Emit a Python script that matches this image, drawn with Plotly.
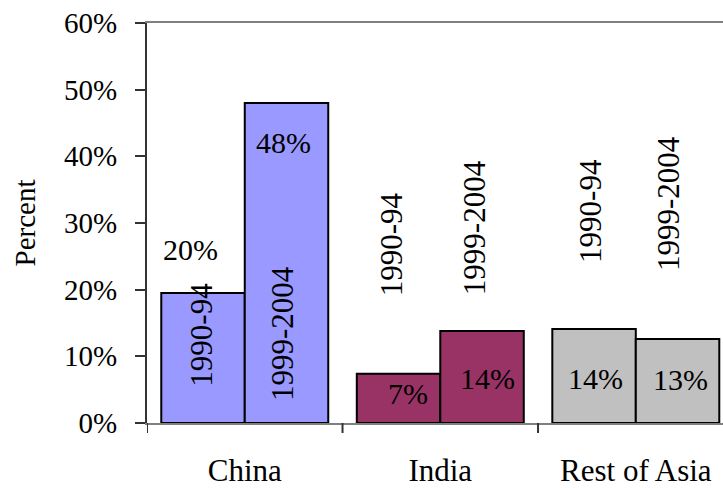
import plotly.graph_objects as go

# Share of inward FDI, by region and period (percent)
regions = ["China", "India", "Rest of Asia"]
periods = ["1990-94", "1999-2004"]
share_1990_94 = [19.5, 7.4, 14.1]
share_1999_2004 = [48.0, 13.8, 12.6]
region_colors = ["#9999FF", "#993366", "#C0C0C0"]
y_ticks = [0, 10, 20, 30, 40, 50, 60]
y_tick_labels = [f"{t}%" for t in y_ticks]

FONT = "Times New Roman, Liberation Serif, serif"
FS_TICK = 29
FS_CAT = 31
FS_PERIOD = 31
FS_VALUE = 30

fig = go.Figure()
series = [share_1990_94, share_1999_2004]
for name, vals in zip(periods, series):
    fig.add_trace(go.Bar(
        x=list(range(len(regions))), y=vals, name=name,
        marker=dict(color=region_colors, line=dict(color="black", width=2)),
        showlegend=False, hoverinfo="skip",
    ))

bar_w = 0.427  # bar width in category units (two bars per group)

# rotated period labels: (period index, region index, x shift in bar widths, y in %)
period_label_pos = [
    (0, 0, -0.02, 13.3), (1, 0, -0.05, 13.4),
    (0, 1, -0.09, 26.8), (1, 1, -0.09, 29.3),
    (0, 2, -0.05, 31.8), (1, 2, -0.11, 32.9),
]
for p, r, dx, yy in period_label_pos:
    xc = r + (p - 0.5) * bar_w + dx * bar_w
    fig.add_annotation(x=xc, y=yy, text=periods[p], textangle=-90,
                       showarrow=False, font=dict(family=FONT, size=FS_PERIOD, color="black"),
                       xref="x", yref="y")

# value labels: (period index, region index, x shift in bar widths, y in %)
value_label_pos = [
    (0, 0, -0.15, 26.1), (1, 0, -0.04, 42.1),
    (0, 1, 0.11, 4.4), (1, 1, 0.07, 6.7),
    (0, 2, 0.02, 6.7), (1, 2, 0.04, 6.5),
]
for p, r, dx, yy in value_label_pos:
    v = series[p][r]
    xc = r + (p - 0.5) * bar_w + dx * bar_w
    fig.add_annotation(x=xc, y=yy, text=f"{round(v)}%", showarrow=False,
                       font=dict(family=FONT, size=FS_VALUE, color="black"),
                       xref="x", yref="y")

fig.update_layout(
    width=723, height=488,
    margin=dict(l=147, r=0, t=23, b=63),
    paper_bgcolor="white", plot_bgcolor="white",
    barmode="group", bargap=0.146, bargroupgap=0,
    font=dict(family=FONT, size=FS_TICK, color="black"),
    xaxis=dict(
        range=[-0.5, 2.446],
        tickmode="array", tickvals=list(range(len(regions))), ticktext=regions,
        showline=True, linecolor="#808080", linewidth=2, mirror=True,
        showgrid=False, zeroline=False,
        ticks="", ticklabelstandoff=19,
        tickfont=dict(family=FONT, size=FS_CAT, color="black"),
    ),
    yaxis=dict(
        range=[0, 60], tickvals=y_ticks, ticktext=y_tick_labels,
        showline=True, linecolor="#333333", linewidth=2,
        showgrid=False, zeroline=False,
        ticks="outside", ticklen=10, tickwidth=2, tickcolor="#333333",
        ticklabelstandoff=12,
        tickfont=dict(family=FONT, size=FS_TICK, color="black"),
        title=dict(text="Percent", font=dict(family=FONT, size=FS_TICK, color="black"), standoff=20),
    ),
)

# tick marks between categories on the horizontal axis
for b in [-0.5, 0.5, 1.5]:
    fig.add_shape(type="line", xref="x", yref="paper", x0=b, x1=b, y0=0, y1=-0.025,
                  line=dict(color="#333333", width=2))

fig.write_html("out.html")
